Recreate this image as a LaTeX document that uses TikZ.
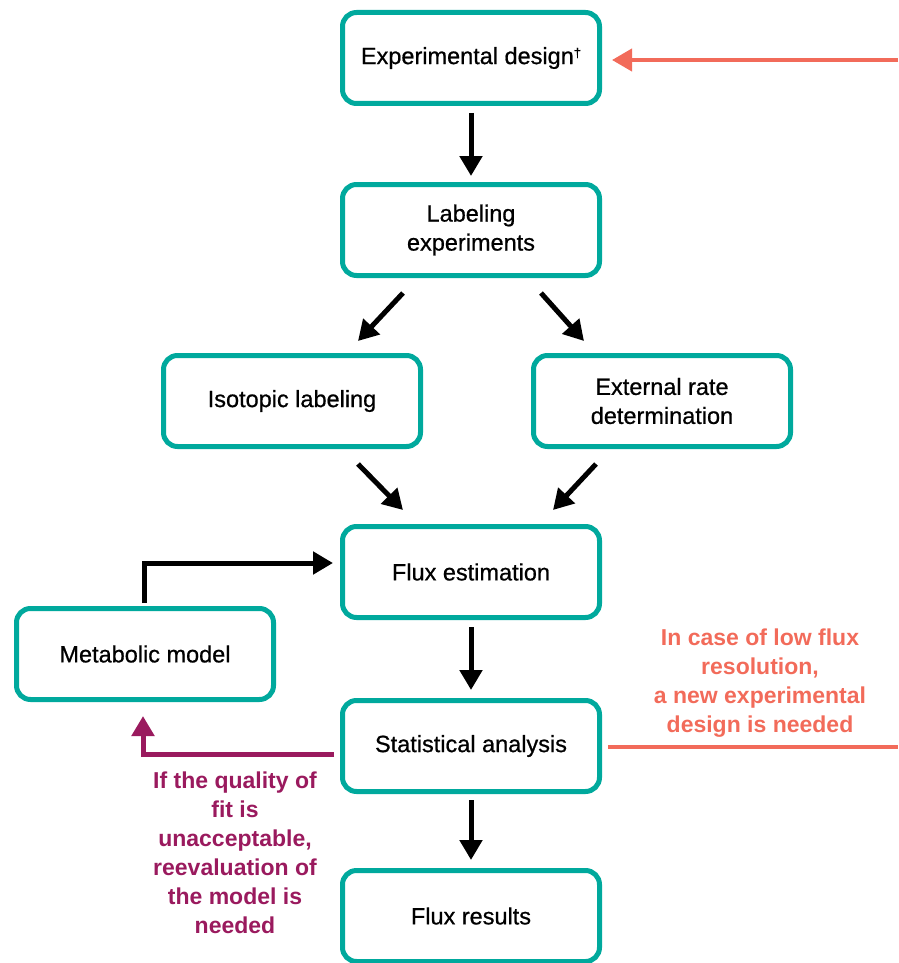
\documentclass[tikz,border=0pt]{standalone}
\usepackage{fontspec}
\setmainfont{Liberation Sans}
\newfontfamily\boxfont[FakeBold=0.7]{Liberation Sans}
\usetikzlibrary{arrows.meta,calc}
\definecolor{teal1}{HTML}{00A99D}
\definecolor{salmon1}{HTML}{F26B5A}
\definecolor{plum1}{HTML}{9A1A5E}
\begin{document}
\begin{tikzpicture}[x=1pt,y=-1pt,
  box/.style={draw=teal1,line width=5pt,rounded corners=14pt,fill=white,
    minimum width=257pt,minimum height=91pt,align=center,
    font=\boxfont\fontsize{23.5}{29}\selectfont},
  arr/.style={line width=5pt,-{Triangle[width=22pt,length=20pt]}},
  note/.style={align=center,font=\fontsize{23}{29}\bfseries\selectfont}]
\useasboundingbox (0,0) rectangle (898,963);
\node[box] (exp) at (471,58) {\raisebox{-2pt}{Experimental design\raisebox{0.55ex}{\fontsize{13}{13}\selectfont\dag}}};
\node[box] (lab) at (471,230) {Labeling\\experiments};
\node[box] (iso) at (292,401) {Isotopic labeling};
\node[box] (ext) at (662,401) {External rate\\determination};
\node[box] (flux) at (471,572) {\raisebox{-2pt}{Flux estimation}};
\node[box] (met) at (145,654) {\raisebox{-2pt}{Metabolic model}};
\node[box] (stat) at (471,746) {Statistical analysis};
\node[box] (res) at (471,916) {Flux results};
% black arrows
\draw[arr] ($(exp.south)+(0,7)$) -- ($(lab.north)+(0,-6)$);
\draw[arr] ($(lab.south)+(-68,15)$) -- ($(iso.north)+(66,-12)$);
\draw[arr] ($(lab.south)+(70,15)$) -- ($(ext.north)+(-78,-12)$);
\draw[arr] ($(iso.south)+(66,15)$) -- ($(flux.north)+(-68,-14)$);
\draw[arr] ($(ext.south)+(-66,15)$) -- ($(flux.north)+(82,-14)$);
\draw[arr] ($(met.north)+(-1,-3)$) |- ($(flux.west)+(-7,-9)$);
\draw[arr] ($(flux.south)+(0,7)$) -- ($(stat.north)+(0,-8)$);
\draw[arr] ($(stat.south)+(0,6)$) -- ($(res.north)+(0,-8)$);
% salmon
\coordinate (sr) at (898,60);
\draw[salmon1,line width=4pt,-{Triangle[width=22pt,length=20pt]}] (sr) -- ($(exp.east)+(10,2)$);
\coordinate (sl) at (898,747);
\draw[salmon1,line width=4pt] ($(stat.east)+(6,1)$) -- (sl);
\node[note,text=salmon1] (snote) at (760,683) {In case of low flux\\resolution,\\a new experimental\\design is needed};
% purple
\draw[plum1,line width=5pt,-{Triangle[width=22pt,length=20pt]}] ($(stat.west)+(-6,8)$) -| ($(met.south)+(-2,14)$);
\node[note,text=plum1] (pnote) at (235,853) {If the quality of\\fit is\\unacceptable,\\reevaluation of\\the model is\\needed};
\end{tikzpicture}
\end{document}
